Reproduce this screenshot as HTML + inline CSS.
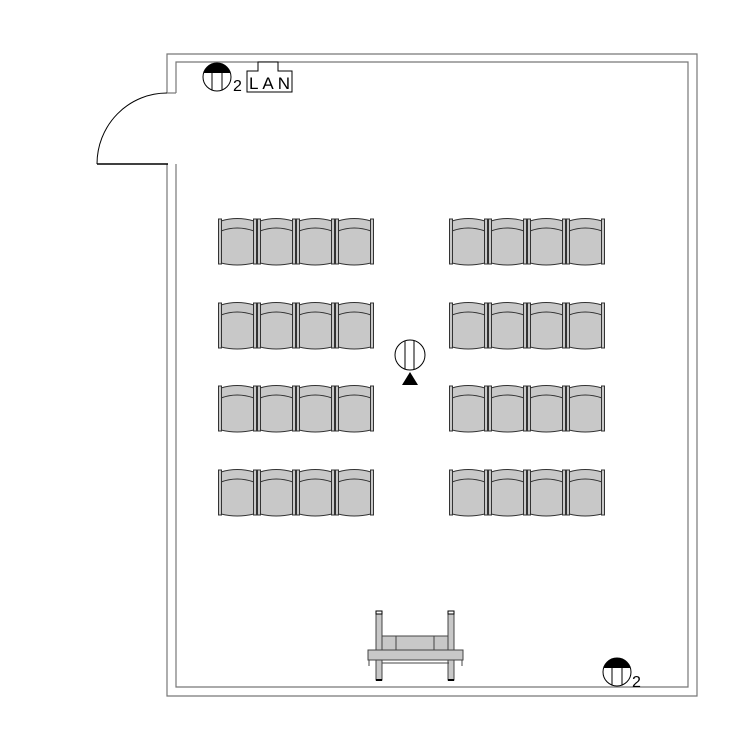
<!DOCTYPE html>
<html><head><meta charset="utf-8"><style>
html,body{margin:0;padding:0;background:#fff;width:750px;height:750px;overflow:hidden}
svg{display:block}
text{font-family:"Liberation Sans",sans-serif}
</style></head><body>
<svg width="750" height="750" viewBox="0 0 750 750" xmlns="http://www.w3.org/2000/svg">
<defs>
<g id="chair">
  <path d="M3,3 Q19,-2 36,3 L36,45 Q19,49 3,45 Z" fill="#c8c8c8" stroke="#333" stroke-width="1"/>
  <path d="M3,13 Q19,7 36,13" fill="none" stroke="#333" stroke-width="1"/>
  <rect x="0.5" y="1" width="3" height="45" fill="#c8c8c8" stroke="#333" stroke-width="1"/>
  <rect x="35.5" y="1" width="3" height="45" fill="#c8c8c8" stroke="#333" stroke-width="1"/>
</g>
<g id="row">
  <use href="#chair" x="0"/><use href="#chair" x="39"/><use href="#chair" x="78"/><use href="#chair" x="117"/>
</g>
<g id="phone">
  <circle cx="0" cy="0" r="14" fill="#fff" stroke="#000" stroke-width="1"/>
  <path d="M-13.4,-4 A14,14 0 0 1 13.4,-4 Z" fill="#000"/>
  <line x1="-5" y1="-10" x2="-5" y2="13" stroke="#000"/>
  <line x1="5" y1="-10" x2="5" y2="13" stroke="#000"/>
</g>
</defs>
<g fill="none" stroke="#777" stroke-width="1.2">
  <path d="M167,93 L167,54 L697,54 L697,696 L167,696 L167,164"/>
  <path d="M176,93 L176,62 L688,62 L688,687 L176,687 L176,164"/>
  <line x1="167" y1="93" x2="176" y2="93"/>
</g>
<path d="M167,93 A70,71 0 0 0 97,164" fill="none" stroke="#000" stroke-width="1"/>
<line x1="97" y1="164" x2="168" y2="164" stroke="#000" stroke-width="1.5"/>

<use href="#phone" x="217" y="77"/>
<text x="233" y="91" font-size="16">2</text>
<path d="M247,71 L258,71 L258,62 L278,62 L278,71 L292,71 L292,92 L247,92 Z" fill="#fff" stroke="#000"/>
<text x="249" y="89" font-size="17" textLength="41">LAN</text>

<use href="#phone" x="617" y="672"/>
<text x="632" y="687" font-size="16">2</text>

<use href="#row" x="218" y="218"/><use href="#row" x="449" y="218"/>
<use href="#row" x="218" y="302"/><use href="#row" x="449" y="302"/>
<use href="#row" x="218" y="385"/><use href="#row" x="449" y="385"/>
<use href="#row" x="218" y="469"/><use href="#row" x="449" y="469"/>

<circle cx="410" cy="355" r="15" fill="#fff" stroke="#000"/>
<line x1="405" y1="341" x2="405" y2="369" stroke="#000"/>
<line x1="414" y1="341" x2="414" y2="369" stroke="#000"/>
<polygon points="410,372 402,385 418,385" fill="#000"/>

<g stroke="#444" stroke-width="1" fill="#c8c8c8">
  <rect x="382" y="636" width="67" height="16"/>
  <line x1="396" y1="636" x2="396" y2="652"/>
  <line x1="434" y1="636" x2="434" y2="652"/>
  <rect x="376" y="612" width="6" height="68"/>
  <rect x="448" y="612" width="6" height="68"/>
  <rect x="368" y="650" width="95" height="10"/>
  <line x1="382" y1="663" x2="449" y2="663" fill="none"/>
  <line x1="369" y1="660" x2="369" y2="666" fill="none"/>
  <line x1="462" y1="660" x2="462" y2="666" fill="none"/>
</g>
<rect x="376" y="611" width="6" height="3" fill="#fff" stroke="#000"/>
<rect x="448" y="611" width="6" height="3" fill="#fff" stroke="#000"/>
<rect x="376" y="679" width="6" height="2" fill="#000"/>
<rect x="448" y="679" width="6" height="2" fill="#000"/>
</svg>
</body></html>
